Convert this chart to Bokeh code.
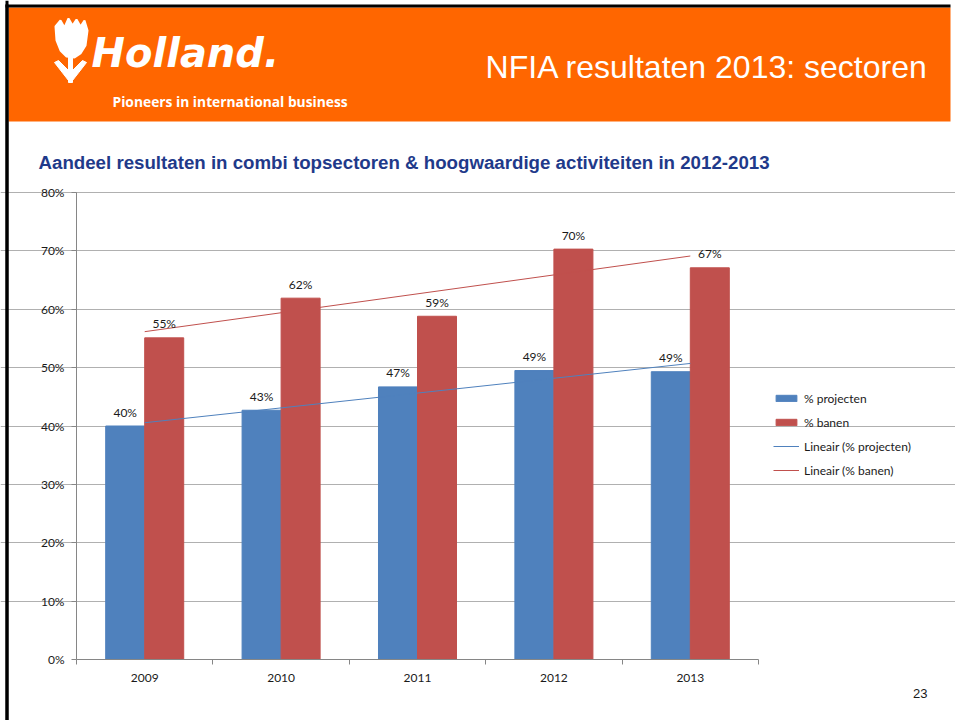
import numpy as np
from bokeh.plotting import figure
from bokeh.models import (ColumnDataSource, FixedTicker, PrintfTickFormatter, LabelSet,
                          Legend, LegendItem, Range1d, LinearAxis, Grid, Span)
from bokeh.transform import dodge
from bokeh.core.properties import value
from bokeh.embed import file_html
from bokeh.resources import INLINE

# ---------------- data ----------------
years = ["2009", "2010", "2011", "2012", "2013"]
projecten = [40.0, 42.7, 46.7, 49.5, 49.3]   # % projecten
banen = [55.1, 61.9, 58.8, 70.3, 67.1]       # % banen
proj_labels = ["40%", "43%", "47%", "49%", "49%"]
banen_labels = ["55%", "62%", "59%", "70%", "67%"]
y_ticks = [0, 10, 20, 30, 40, 50, 60, 70, 80]
series_names = ["% projecten", "% banen", "Lineair (% projecten)", "Lineair (% banen)"]

chart_title = "Aandeel resultaten in combi topsectoren & hoogwaardige activiteiten in 2012-2013"
slide_title = "NFIA resultaten 2013: sectoren"
tagline = "Pioneers in international business"
brand = "Holland."
page_no = "23"

BLUE = "#4F81BD"
RED = "#C0504D"
ORANGE = "#FF6600"
NAVY = "#1F3A8A"
TXT = "#1A1A1A"
AX = "#868686"
FONT = "Liberation Sans"
CFONT = "Lato"

# ---------------- layout constants (pixels) ----------------
W, H = 955, 720
X0_PX = 76          # page x of category axis start
Y0_PX = 659         # page y of 0 %
CAT_PX = 136.4      # px per category
TEN_PX = 58.375     # px per 10 %

x_range = Range1d(-X0_PX / CAT_PX, (W - X0_PX) / CAT_PX)
y_range = Range1d(-(H - Y0_PX) / TEN_PX * 10, Y0_PX / TEN_PX * 10)

p = figure(width=W, height=H, output_backend="svg", toolbar_location=None,
           x_range=x_range, y_range=y_range, x_axis_location=None, y_axis_location=None,
           min_border=0)
p.title.text = ""
p.grid.visible = False
p.outline_line_color = None
p.background_fill_color = "white"
p.border_fill_color = "white"
# pixel ranges for the slide decorations
p.extra_x_ranges = {"px": Range1d(0, W)}
p.extra_y_ranges = {"px": Range1d(H, 0)}
PX = dict(x_range_name="px", y_range_name="px")

# ---------------- slide decorations ----------------
p.quad(left=[5, 5], right=[8, 950], top=[4, 4], bottom=[H, 7], fill_color="black",
       line_color=None, level="overlay", **PX)
p.add_layout(Span(location=6.5, dimension="height", line_color="black", line_width=3,
                  x_range_name="px", level="overlay"))
p.quad(left=[8], right=[950], top=[7], bottom=[121], fill_color=ORANGE, line_color=None, **PX)

# tulip (logo)
p.patch([55, 60, 64, 68, 72, 76, 80, 84, 87, 85, 80, 74, 66, 60, 56],
        [26, 20, 27, 18, 25, 19, 26, 20, 30, 45, 53, 57, 56, 50, 40],
        fill_color="white", line_color="white", line_width=2, **PX)
p.patch([68, 72, 72, 68], [55, 55, 82, 82], fill_color="white", line_color="white", **PX)
p.patch([54, 58, 70, 82, 86, 72, 68], [62, 60, 72, 60, 62, 80, 80],
        fill_color="white", line_color="white", **PX)
p.text(x=[91], y=[52], text=[brand], text_align="left", text_baseline="middle",
       text_font=value("DejaVu Sans"), text_font_style="bold italic",
       text_font_size="40px", text_color="white", **PX)
p.text(x=[112], y=[101], text=[tagline], text_align="left", text_baseline="middle",
       text_font=value("Open Sans"), text_font_style="bold", text_font_size="13.8px",
       text_color="white", **PX)
p.text(x=[928], y=[66], text=[slide_title], text_align="right", text_baseline="middle",
       text_font=value(FONT), text_font_size="32px", text_color="white", **PX)
p.text(x=[38], y=[162], text=[chart_title], text_align="left", text_baseline="middle",
       text_font=value(FONT), text_font_style="bold", text_font_size="18.7px",
       text_color=NAVY, **PX)
p.text(x=[927], y=[693], text=[page_no], text_align="right", text_baseline="middle",
       text_font=value(FONT), text_font_size="13px", text_color=TXT, **PX)

# ---------------- chart ----------------
idx = [i + 0.5 for i in range(len(years))]
src = ColumnDataSource(dict(x=idx, proj=projecten, banen=banen,
                            plab=proj_labels, blab=banen_labels))

xaxis = LinearAxis(fixed_location=0, bounds=(0, len(years)),
                   ticker=FixedTicker(ticks=idx, minor_ticks=list(range(len(years) + 1))),
                   major_label_overrides={v: y for v, y in zip(idx, years)},
                   major_tick_line_color=None, major_tick_out=0, major_tick_in=0,
                   minor_tick_out=5, minor_tick_in=0, minor_tick_line_color=AX,
                   axis_line_color=AX, major_label_text_font=CFONT,
                   major_label_text_font_size="12px", major_label_text_color=TXT,
                   major_label_standoff=9)
p.add_layout(xaxis, "below")

yaxis = LinearAxis(fixed_location=0, bounds=(0, 80), ticker=FixedTicker(ticks=y_ticks),
                   formatter=PrintfTickFormatter(format="%d%%"),
                   axis_line_color=AX, major_tick_line_color=AX, major_tick_out=5,
                   major_tick_in=0, minor_tick_line_color=None,
                   major_label_text_font=CFONT, major_label_text_font_size="12px",
                   major_label_text_color=TXT, major_label_standoff=7)
p.add_layout(yaxis, "left")

for ax in (xaxis, yaxis):
    try:
        ax.background_fill_color = None
    except Exception:
        pass

p.add_layout(Grid(dimension=1, ticker=FixedTicker(ticks=y_ticks[1:]), bounds=(0, len(years)),
                  grid_line_color="#B0B0B0", grid_line_width=1))

bw = 0.286
r1 = p.vbar(x=dodge("x", -bw / 2, range=x_range), top="proj", width=bw, source=src,
            fill_color=BLUE, line_color=BLUE)
r2 = p.vbar(x=dodge("x", bw / 2, range=x_range), top="banen", width=bw, source=src,
            fill_color=RED, line_color=RED)

# linear trend lines (least squares fit of the bar values, like Excel "Lineair")
xi = np.arange(len(years))
cp = np.polyfit(xi, projecten, 1)
cb = np.polyfit(xi, banen, 1)
tx = [idx[0], idx[-1]]
r3 = p.line(tx, [np.polyval(cp, 0), np.polyval(cp, len(years) - 1)], line_color=BLUE,
            line_width=1)
r4 = p.line(tx, [np.polyval(cb, 0), np.polyval(cb, len(years) - 1)], line_color=RED,
            line_width=1)

for col, lab, off in (("proj", "plab", -bw / 2), ("banen", "blab", bw / 2)):
    p.add_layout(LabelSet(x=dodge("x", off, range=x_range), y=col, text=lab, source=src,
                          text_align="center", text_baseline="middle", y_offset=14,
                          text_font=value(CFONT), text_font_size="12px", text_color=TXT))

legend = Legend(items=[LegendItem(label=n, renderers=[r]) for n, r in
                       zip(series_names, [r1, r2, r3, r4])],
                location=(773, 240), glyph_width=26, glyph_height=8, label_height=20,
                spacing=4, padding=0, margin=0, border_line_color=None,
                background_fill_alpha=0, label_text_font=CFONT,
                label_text_font_size="12px", label_text_color=TXT, label_standoff=5)
p.add_layout(legend, "center")

open("out.html", "w").write(file_html(p, INLINE))
